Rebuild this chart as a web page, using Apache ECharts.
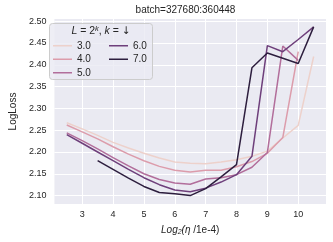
<!DOCTYPE html>
<html>
<head>
<meta charset="utf-8">
<script src="https://cdn.jsdelivr.net/npm/echarts@6/dist/echarts.min.js"></script>
<style>
html,body{margin:0;padding:0;background:#fff;}
#chart{width:333px;height:242px;}
</style>
</head>
<body>
<div id="chart"></div>
<script>
// x positions: log2(eta / 1e-4)
const xValues = [2.5, 3, 3.5, 4, 4.5, 5, 5.5, 6, 6.5, 7, 7.5, 8, 8.5, 9, 9.5, 10, 10.5];
// LogLoss per k (L = 2^k)
const k3 = [2.267, 2.253, 2.238, 2.222, 2.209, 2.197, 2.186, 2.177, 2.174, 2.173, 2.177, 2.182, 2.190, 2.202, 2.232, 2.261, 2.419];
const k4 = [2.262, 2.246, 2.230, 2.212, 2.195, 2.180, 2.167, 2.158, 2.154, 2.158, 2.158, 2.166, 2.178, 2.197, 2.233, 2.430, null];
const k5 = [2.244, 2.226, 2.207, 2.187, 2.168, 2.150, 2.137, 2.129, 2.126, 2.138, 2.141, 2.148, 2.165, 2.199, 2.443, 2.410, null];
const k6 = [2.240, 2.220, 2.200, 2.180, 2.160, 2.141, 2.125, 2.113, 2.109, 2.117, 2.131, 2.148, 2.190, 2.444, 2.430, 2.458, 2.487];
const k7 = [null, null, 2.180, 2.160, 2.140, 2.121, 2.107, 2.104, 2.100, 2.116, 2.143, 2.171, 2.393, 2.427, 2.415, 2.403, 2.487];
const seriesNames = ['3.0', '4.0', '5.0', '6.0', '7.0'];
const seriesValues = [k3, k4, k5, k6, k7];
const xTicks = [3, 4, 5, 6, 7, 8, 9, 10];
const yTicks = [2.10, 2.15, 2.20, 2.25, 2.30, 2.35, 2.40, 2.45, 2.50];
const colors = ['#edd1cb', '#dc9cab', '#b26e9b', '#6e3f7b', '#2d1e3e'];

const FONT = 'Liberation Sans, Arial, sans-serif';
const chart = echarts.init(document.getElementById('chart'), null, {renderer: 'canvas'});

const series = seriesNames.map((name, i) => ({
  name: name,
  type: 'line',
  data: xValues.map((x, j) => seriesValues[i][j] == null ? null : [x, seriesValues[i][j]]).filter(d => d !== null),
  showSymbol: false,
  symbol: 'none',
  lineStyle: {color: colors[i], width: 1.5},
  itemStyle: {color: colors[i]},
  animation: false,
  z: 2
}));

const legendCommon = {
  orient: 'vertical',
  icon: 'rect',
  itemWidth: 19,
  itemHeight: 1.5,
  itemGap: 1,
  padding: 0,
  selectedMode: false,
  textStyle: {fontFamily: FONT, fontSize: 10, color: '#262626', lineHeight: 12.5},
  z: 5
};

chart.setOption({
  animation: false,
  backgroundColor: '#ffffff',
  grid: {left: 45, right: 7, top: 19, bottom: 38, containLabel: false,
         show: true, backgroundColor: '#eaeaf2', borderWidth: 0},
  xAxis: {
    type: 'value', min: 2.1, max: 10.9,
    name: '{i|Log}{sub|2}{i|(η} /1e-4)',
    nameLocation: 'middle', nameGap: 20,
    nameTextStyle: {fontFamily: FONT, fontSize: 10, color: '#262626',
      rich: {i: {fontStyle: 'italic', fontFamily: FONT, fontSize: 10, color: '#262626'},
             sub: {fontStyle: 'italic', fontFamily: FONT, fontSize: 7, color: '#262626', padding: [5, 0, 0, 0]}}},
    axisLine: {show: false}, axisTick: {show: false, customValues: xTicks},
    axisLabel: {customValues: xTicks, fontFamily: FONT, fontSize: 9, color: '#262626', margin: 6,
                formatter: v => String(Math.round(v))},
    splitLine: {show: true, lineStyle: {color: '#ffffff', width: 1}}
  },
  yAxis: {
    type: 'value', min: 2.0807, max: 2.505,
    name: 'LogLoss', nameLocation: 'middle', nameGap: 34,
    nameTextStyle: {fontFamily: FONT, fontSize: 10, color: '#262626'},
    axisLine: {show: false}, axisTick: {show: false, customValues: yTicks},
    axisLabel: {customValues: yTicks, fontFamily: FONT, fontSize: 9, color: '#262626', margin: 8,
                formatter: v => v.toFixed(2)},
    splitLine: {show: true, lineStyle: {color: '#ffffff', width: 1}}
  },
  legend: [
    Object.assign({}, legendCommon, {data: ['3.0', '4.0', '5.0'], left: 53, top: 39.5}),
    Object.assign({}, legendCommon, {data: ['6.0', '7.0'], left: 109, top: 39.5})
  ],
  graphic: [
    {type: 'rect', z: 4, shape: {x: 49.5, y: 23.5, width: 103, height: 56, r: 3},
     style: {fill: 'rgba(234,234,242,0.8)', stroke: '#cccccc', lineWidth: 1}},
    {type: 'text', z: 5, x: 101, y: 31.5,
     style: {text: '{i|L} = 2{sup|k}, {i|k} = {a|↓}', align: 'center', verticalAlign: 'middle',
             font: '10.5px ' + FONT, fill: '#262626',
             rich: {i: {fontStyle: 'italic', fontFamily: FONT, fontSize: 10.5, fill: '#262626'},
                    a: {fontFamily: 'DejaVu Sans, ' + FONT, fontSize: 10.5, fill: '#262626'},
                    sup: {fontStyle: 'italic', fontFamily: FONT, fontSize: 7.5, fill: '#262626', padding: [0, 0, 6, 0]}}}},
    {type: 'text', z: 5, x: 185.5, y: 10,
     style: {text: 'batch=327680:360448', align: 'center', verticalAlign: 'middle',
             font: '10px ' + FONT, fill: '#262626'}}
  ],
  series: series
});
</script>
</body>
</html>
